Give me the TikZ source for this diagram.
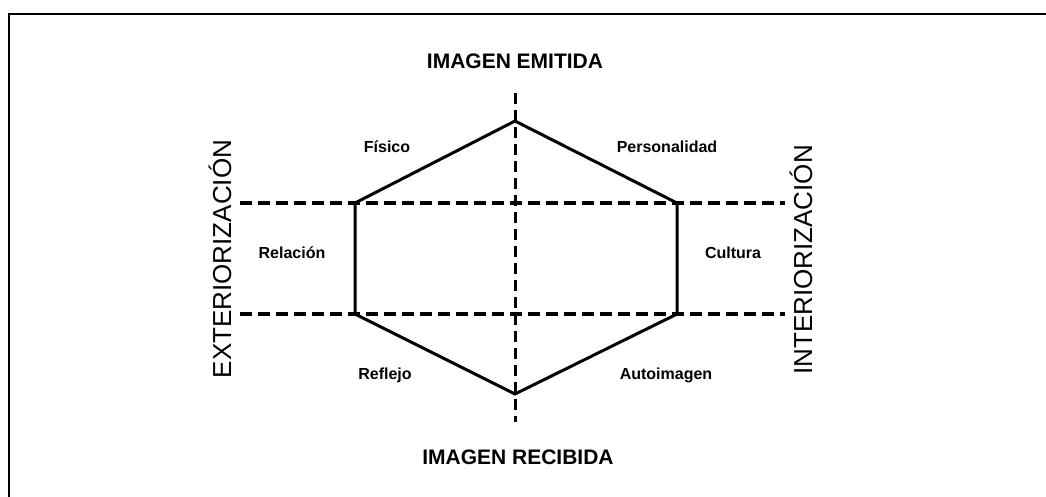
\documentclass[tikz,border=0pt]{standalone}
\usepackage{fontspec}
\setmainfont{Liberation Sans}
\tikzset{
  title/.style = {font=\fontsize{21}{24}\selectfont\bfseries},
  side/.style = {font=\fontsize{26}{30}\selectfont, rotate=90},
  face/.style = {font=\fontsize{16}{19}\selectfont\bfseries},
  hexline/.style = {line width=3pt, line join=miter},
  level/.style = {line width=4pt, dash pattern=on 12pt off 6pt},
  axis/.style = {line width=3pt, dash pattern=on 11pt off 6pt}
}
\begin{document}
\begin{tikzpicture}[x=1pt, y=-1pt]
\useasboundingbox (0,0) rectangle (1046,496);
\draw [line width=2.5pt] (1060,14) -- (9,14) -- (9,510);
% hexagon corners
\coordinate (top) at (515,121);
\coordinate (ul) at (355,203);
\coordinate (ur) at (677,203);
\coordinate (ll) at (355,314);
\coordinate (lr) at (677,314);
\coordinate (bot) at (515,394);
% ends of the dashed lines
\coordinate (axtop) at (515,93);
\coordinate (axbot) at (515,422);
\coordinate (ulend) at (240,203);
\coordinate (urend) at (785,203);
\coordinate (llend) at (240,314);
\coordinate (lrend) at (785,314);
\draw [level] (ulend) -- (urend);
\draw [level] (llend) -- (lrend);
\draw [axis] (axtop) -- (axbot);
\draw [hexline] (top) -- (ur) -- (lr) -- (bot) -- (ll) -- (ul) -- cycle;
\node [title] (emitida) at (515,61) {IMAGEN EMITIDA};
\node [title] (recibida) at (518,457) {IMAGEN RECIBIDA};
\node [side] (exterior) at (220,259) {EXTERIORIZACIÓN};
\node [side] (interior) at (801,260) {INTERIORIZACIÓN};
\node [face] (fisico) at (387,147) {Físico};
\node [face] (personalidad) at (667,147) {Personalidad};
\node [face] (relacion) at (292,253) {Relación};
\node [face] (cultura) at (733,253) {Cultura};
\node [face] (reflejo) at (385,375) {Reflejo};
\node [face] (autoimagen) at (666,375) {Autoimagen};
\end{tikzpicture}
\end{document}
